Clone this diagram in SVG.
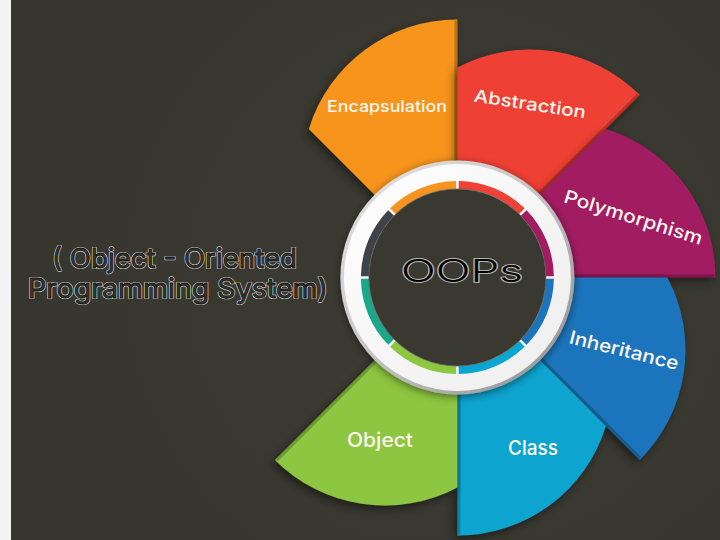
<svg xmlns="http://www.w3.org/2000/svg" width="720" height="540" viewBox="0 0 720 540">
  <defs>
    <radialGradient id="bg" cx="457" cy="278" r="480" gradientUnits="userSpaceOnUse">
      <stop offset="0" stop-color="#3c3b33"/>
      <stop offset="1" stop-color="#36352e"/>
    </radialGradient>
    <linearGradient id="bevel" x1="0" y1="0" x2="1" y2="1">
      <stop offset="0" stop-color="#e6e6e6"/>
      <stop offset="0.5" stop-color="#c4c4c4"/>
      <stop offset="1" stop-color="#8c8c8c"/>
    </linearGradient>
    <linearGradient id="whiteRing" x1="0" y1="0" x2="1" y2="1">
      <stop offset="0" stop-color="#ffffff"/>
      <stop offset="1" stop-color="#ededed"/>
    </linearGradient>
    <filter id="shadow" x="-20%" y="-20%" width="140%" height="140%">
      <feDropShadow dx="-3" dy="4" stdDeviation="5" flood-color="#000" flood-opacity="0.45"/>
    </filter>
    <filter id="ringShadow" x="-20%" y="-20%" width="140%" height="140%">
      <feDropShadow dx="0" dy="2" stdDeviation="4" flood-color="#000" flood-opacity="0.5"/>
    </filter>
  </defs>
  <style>
    .petal { filter: url(#shadow); }
    .edge { stroke: #000; stroke-opacity: 0.22; stroke-width: 3; fill: none; }
    .lbl { font-family: Inter, "DejaVu Sans", "Liberation Sans", sans-serif; font-weight: 500; fill: #fdf6ee; text-anchor: middle; }
    .band { fill: none; stroke-width: 8; }
    .outline-back { font-family: Inter, "DejaVu Sans", "Liberation Sans", sans-serif; font-weight: 400; fill: none; stroke: #cfcfcf; stroke-width: 2.2; stroke-linejoin: round; }
    .outline-front { font-family: Inter, "DejaVu Sans", "Liberation Sans", sans-serif; font-weight: 400; stroke: #111; stroke-width: 0.8; }
    .big-back { font-family: Inter, "DejaVu Sans", sans-serif; font-weight: 300; fill: none; stroke: #b5b5b0; stroke-width: 2; stroke-linejoin: round; }
    .big-front { font-family: Inter, "DejaVu Sans", sans-serif; font-weight: 300; fill: #000; }
  </style>

  <rect x="0" y="0" width="720" height="540" fill="url(#bg)"/>
  <rect x="0" y="0" width="11" height="540" fill="#f3f3f3"/>

  <g id="connectors"/>

  <g id="encapsulation">
    <path class="petal" d="M457.4,277.5 L457.4,19.5 A155,155 0 0 0 308.9,129 Z" fill="#F7941D"/>
    <line class="edge" x1="455.9" y1="164.5" x2="455.9" y2="20.5"/>
    <text class="lbl" x="387" y="112" font-size="16" textLength="120" lengthAdjust="spacingAndGlyphs">Encapsulation</text>
  </g>

  <g id="abstraction">
    <path class="petal" d="M457.4,277.5 L639.8,95.1 A155,155 0 0 0 457.4,67.5 Z" fill="#EF4136"/>
    <line class="edge" x1="536.2" y1="196.5" x2="638" y2="94.7"/>
    <text class="lbl" x="529" y="110" font-size="17.5" textLength="113" lengthAdjust="spacingAndGlyphs" transform="rotate(8.6 529 110)">Abstraction</text>
  </g>

  <g id="polymorphism">
    <path class="petal" d="M457.4,277.5 L715.4,277.5 A155,155 0 0 0 605.9,129 Z" fill="#A21C62"/>
    <line class="edge" x1="570.4" y1="276" x2="714.4" y2="276"/>
    <text class="lbl" x="631.5" y="223.5" font-size="18.5" textLength="144" lengthAdjust="spacingAndGlyphs" transform="rotate(17.4 631.5 223.5)">Polymorphism</text>
  </g>

  <g id="inheritance">
    <path class="petal" d="M457.4,277.5 L639.8,459.9 A155,155 0 0 0 667.4,277.5 Z" fill="#1C75BC"/>
    <line class="edge" x1="538.4" y1="356.3" x2="640.2" y2="458.1"/>
    <text class="lbl" x="622.5" y="356.5" font-size="18.5" textLength="112" lengthAdjust="spacingAndGlyphs" transform="rotate(13.9 622.5 356.5)">Inheritance</text>
  </g>

  <g id="class">
    <path class="petal" d="M457.4,277.5 L457.4,535.5 A155,155 0 0 0 605.9,426 Z" fill="#0AA5D0"/>
    <line class="edge" x1="458.9" y1="390.5" x2="458.9" y2="534.5"/>
    <text class="lbl" x="533" y="455" font-size="20.5" textLength="50" lengthAdjust="spacingAndGlyphs">Class</text>
  </g>

  <g id="object">
    <path class="petal" d="M457.4,277.5 L275,459.9 A155,155 0 0 0 457.4,487.5 Z" fill="#8DC63F"/>
    <line class="edge" x1="378.6" y1="358.5" x2="276.8" y2="460.3"/>
    <text class="lbl" x="380" y="447" font-size="20" textLength="66" lengthAdjust="spacingAndGlyphs">Object</text>
  </g>

  <g id="oops-ring">
    <circle cx="457.4" cy="277.5" r="117" fill="url(#bevel)" filter="url(#ringShadow)"/>
    <circle cx="457.4" cy="277.5" r="113.5" fill="url(#whiteRing)"/>
    <path class="band" stroke="#EF4136" d="M458.69,185.01 A92.5,92.5 0 0 1 521.89,211.19"/>
    <path class="band" stroke="#A21C62" d="M523.71,213.01 A92.5,92.5 0 0 1 549.89,276.21"/>
    <path class="band" stroke="#1C75BC" d="M549.89,278.79 A92.5,92.5 0 0 1 523.71,341.99"/>
    <path class="band" stroke="#0AA5D0" d="M521.89,343.81 A92.5,92.5 0 0 1 458.69,369.99"/>
    <path class="band" stroke="#8DC63F" d="M456.11,369.99 A92.5,92.5 0 0 1 392.91,343.81"/>
    <path class="band" stroke="#1BA88A" d="M391.09,341.99 A92.5,92.5 0 0 1 364.91,278.79"/>
    <path class="band" stroke="#3E4347" d="M364.91,276.21 A92.5,92.5 0 0 1 391.09,213.01"/>
    <path class="band" stroke="#F7941D" d="M392.91,211.19 A92.5,92.5 0 0 1 456.11,185.01"/>
    <circle cx="457.4" cy="277.5" r="88.5" fill="#3a3931" stroke="#5a5a55" stroke-width="0.8"/>
    <text class="big-back" x="462" y="282" font-size="31" text-anchor="middle" textLength="122" lengthAdjust="spacingAndGlyphs">OOPs</text>
    <text class="big-front" x="462" y="282" font-size="31" text-anchor="middle" textLength="122" lengthAdjust="spacingAndGlyphs">OOPs</text>
  </g>

  <g id="subtitle">
    <text class="outline-back" x="174.5" y="268" font-size="27" text-anchor="middle" textLength="245" lengthAdjust="spacingAndGlyphs">( Object - Oriented</text>
    <text class="outline-front" x="174.5" y="268" font-size="27" text-anchor="middle" fill="#38372f" textLength="245" lengthAdjust="spacingAndGlyphs">( Object - Oriented</text>
    <text class="outline-back" x="178" y="298" font-size="27" text-anchor="middle" textLength="300" lengthAdjust="spacingAndGlyphs">Programming System)</text>
    <text class="outline-front" x="178" y="298" font-size="27" text-anchor="middle" fill="#38372f" textLength="300" lengthAdjust="spacingAndGlyphs">Programming System)</text>
  </g>
</svg>
